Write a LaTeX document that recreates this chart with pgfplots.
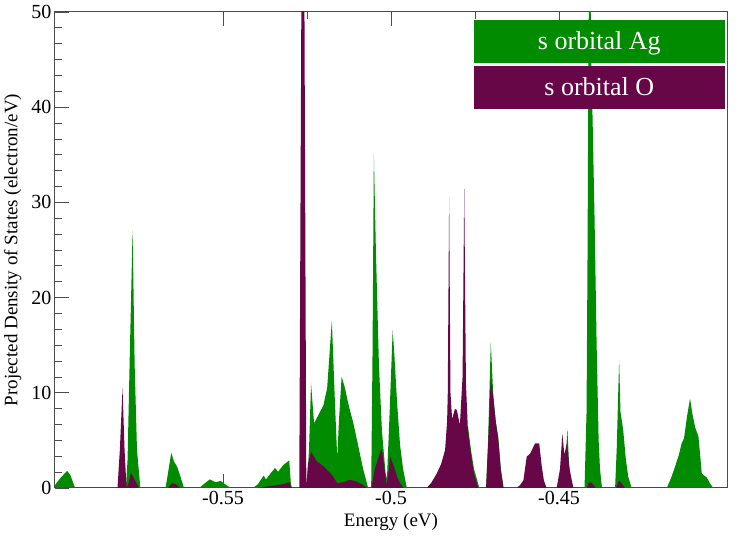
\documentclass[border=0pt]{standalone}
\usepackage{fontspec}
\setmainfont{Liberation Serif}
\usepackage{pgfplots}
\pgfplotsset{compat=1.18}
\usepackage{pgfplotstable}
\definecolor{agg}{RGB}{0,139,0}
\definecolor{oo}{RGB}{103,7,72}

\pgfplotstableread{
E dos
-0.6000 0.3
-0.5985 1.0
-0.5964 1.8
-0.5955 1.4
-0.5940 0
-0.5789 0
-0.5784 3
-0.5778 13
-0.5769 27.1
-0.5763 13
-0.5756 4
-0.5746 0
-0.5671 0
-0.5664 1.5
-0.5654 3.7
-0.5646 2.8
-0.5636 2.2
-0.5625 1.0
-0.5616 0
-0.5571 0
-0.5554 0.5
-0.5539 0.9
-0.5522 0.6
-0.5507 0.75
-0.5494 0.4
-0.5477 0
-0.5411 0
-0.5396 0.4
-0.5379 1.3
-0.5372 0.9
-0.5357 1.6
-0.5345 2.1
-0.5336 1.7
-0.5321 2.4
-0.5303 2.9
-0.5298 0.5
-0.5295 0
-0.5251 0
-0.5244 4
-0.5238 11.0
-0.5229 6.8
-0.5217 7.6
-0.5201 8.7
-0.5190 10.5
-0.5176 17.6
-0.5168 10
-0.5160 3.1
-0.5155 7
-0.5147 11.7
-0.5137 10.5
-0.5128 9.0
-0.5121 8.0
-0.5112 6.8
-0.5098 4.5
-0.5083 2.0
-0.5068 0
-0.5059 0
-0.5055 14
-0.5051 35.1
-0.5045 25
-0.5036 13
-0.5027 6
-0.5016 1.5
-0.5012 1.0
-0.5004 8
-0.4995 16.6
-0.4990 14
-0.4982 9
-0.4973 4.5
-0.4964 2
-0.4953 0
-0.4777 0
-0.4771 6.5
-0.4762 4
-0.4753 2
-0.4737 0
-0.4717 0
-0.4711 5
-0.4703 15.3
-0.4696 10
-0.4688 7
-0.4681 5.4
-0.4673 2
-0.4665 0
-0.4487 0
-0.4482 2
-0.4475 6.2
-0.4470 2.5
-0.4461 0
-0.4424 0
-0.4418 8
-0.4415 25
-0.4412 48
-0.4408 58
-0.4404 45
-0.4400 38.7
-0.4394 28
-0.4388 15
-0.4382 5
-0.4378 2
-0.4372 0
-0.4333 0
-0.4328 4.3
-0.4324 9.7
-0.4321 13.4
-0.4317 8
-0.4309 6.1
-0.4301 3
-0.4294 1.2
-0.4284 0
-0.4179 0
-0.4167 1.0
-0.4155 2.2
-0.4143 3.5
-0.4135 4.7
-0.4128 5.2
-0.4119 7.5
-0.4110 9.4
-0.4103 7.8
-0.4095 6.4
-0.4085 5.4
-0.4080 3.5
-0.4075 1.5
-0.4060 1.1
-0.4051 0.5
-0.4041 0
-0.4000 0
}\agdata

\pgfplotstableread{
E dos
-0.6000 0
-0.5814 0
-0.5807 4
-0.5799 10.5
-0.5793 4
-0.5787 0
-0.5781 0.5
-0.5774 1.6
-0.5762 0.8
-0.5750 0
-0.5664 0
-0.5652 0.5
-0.5640 0.4
-0.5628 0
-0.5402 0
-0.5360 0.2
-0.5321 0.4
-0.5303 0.6
-0.5298 0.2
-0.5295 0
-0.5273 0
-0.5262 90
-0.5252 0
-0.5247 2.5
-0.5238 3.8
-0.5221 2.8
-0.5205 2.4
-0.5193 2.0
-0.5176 1.4
-0.5160 0.5
-0.5143 0.6
-0.5122 0.85
-0.5104 0.7
-0.5086 0.4
-0.5072 0
-0.5058 0
-0.5048 2.0
-0.5039 3.0
-0.5028 4.2
-0.5021 2.5
-0.5013 0.3
-0.5006 2.0
-0.5003 3.3
-0.4994 2.5
-0.4982 1.2
-0.4973 0.5
-0.4963 0
-0.4894 0
-0.4881 0.5
-0.4864 1.5
-0.4851 2.5
-0.4839 4.0
-0.4833 7
-0.4831 10
-0.4827 30.6
-0.4823 10
-0.4818 7.2
-0.4810 8.3
-0.4804 8.2
-0.4795 6.6
-0.4787 11.7
-0.4782 31.4
-0.4777 11
-0.4771 6
-0.4762 3.5
-0.4753 1.5
-0.4740 0
-0.4717 0
-0.4711 4.5
-0.4703 11.5
-0.4696 9.5
-0.4688 6.8
-0.4681 5.2
-0.4673 1.8
-0.4665 0
-0.4626 0
-0.4616 0.3
-0.4606 0.8
-0.4596 3.3
-0.4586 3.6
-0.4571 4.7
-0.4559 4.7
-0.4551 2.2
-0.4545 0.8
-0.4537 0
-0.4507 0
-0.4497 2
-0.4490 5.7
-0.4484 3.5
-0.4476 4.8
-0.4469 2
-0.4457 0
-0.4417 0
-0.4411 0.6
-0.4402 0.5
-0.4390 0
-0.4330 0
-0.4321 0.8
-0.4312 0.4
-0.4304 0
-0.4000 0
}\odata

\begin{document}
\begin{tikzpicture}[x=1pt,y=1pt]
\useasboundingbox (-55,-50) rectangle (687,488);
\begin{axis}[
  at={(0,0)}, anchor=south west,
  scale only axis, width=672pt, height=476pt,
  xmin=-0.6, xmax=-0.4, ymin=0, ymax=50,
  xtick={-0.55,-0.5,-0.45},
  ytick={0,10,20,30,40,50},
  minor x tick num=1,
  minor y tick num=5,
  xtick pos=both, ytick pos=left,
  tick align=inside,
  major tick length=14pt,
  minor tick length=7pt,
  tick style={black!70, line width=0.8pt},
  axis line style={black!70, line width=1pt},
  /pgf/number format/assume math mode=true,
  ticklabel style={font=\fontsize{20}{20}\selectfont},
  label style={font=\fontsize{19}{19}\selectfont},
  xlabel={Energy (eV)},
  ylabel={Projected Density of States (electron/eV)},
  xlabel style={at={(axis description cs:0.5,-0.0714)}, anchor=center},
  ylabel style={at={(axis description cs:-0.063,0.5)}, anchor=center},
  legend image code/.code={},
  legend style={at={(1,1)}, anchor=north east, xshift=-2pt, yshift=-8pt,
    draw=none, fill=none, inner sep=0pt, row sep=3pt, column sep=0pt,
    nodes={inner sep=0pt, font=\fontsize{26}{26}\selectfont}},
]
\addplot[fill=agg, draw=none] table[x=E, y=dos] {\agdata} \closedcycle;
\addlegendentry[fill=agg, text=white, minimum width=251pt, minimum height=43pt]{s orbital Ag}
\addplot[fill=oo, draw=none] table[x=E, y=dos] {\odata} \closedcycle;
\addlegendentry[fill=oo, text=white, minimum width=251pt, minimum height=43pt]{s orbital O}
\end{axis}
\end{tikzpicture}
\end{document}
